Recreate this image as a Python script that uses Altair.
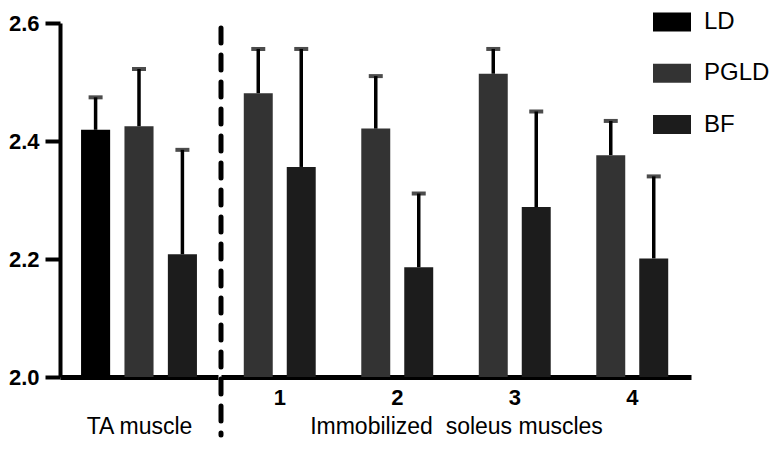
import altair as alt
import pandas as pd

# ---------------- data ----------------
series_names = ["LD", "PGLD", "BF"]
series_colors = ["#000000", "#333333", "#1c1c1c"]

ta_series = ["LD", "PGLD", "BF"]
ta_mean = [2.419, 2.425, 2.208]
ta_upper = [2.474, 2.522, 2.385]

sol_groups = ["1", "2", "3", "4"]
sol_pgld_mean = [2.481, 2.421, 2.514, 2.376]
sol_pgld_upper = [2.556, 2.510, 2.556, 2.434]
sol_bf_mean = [2.356, 2.186, 2.288, 2.201]
sol_bf_upper = [2.556, 2.311, 2.450, 2.340]

y_ticks = [2.0, 2.2, 2.4, 2.6]

ta_df = pd.DataFrame({"series": ta_series, "mean": ta_mean, "upper": ta_upper})
sol_df = pd.DataFrame({
    "group": sol_groups * 2,
    "series": ["PGLD"] * len(sol_groups) + ["BF"] * len(sol_groups),
    "mean": sol_pgld_mean + sol_bf_mean,
    "upper": sol_pgld_upper + sol_bf_upper,
})
legend_df = pd.DataFrame({"series": series_names})

# ---------------- style ----------------
FONT = "Liberation Sans"
H = 354
WL, WR = 158, 470
yscale = alt.Scale(domain=[2.0, 2.6], nice=False, zero=False)

color = alt.Color(
    "series:N",
    scale=alt.Scale(domain=series_names, range=series_colors),
    legend=None,
)

y_axis = alt.Axis(
    values=y_ticks, format=".1f", labelFont=FONT, labelFontSize=22,
    labelFontWeight="bold", labelColor="black", labelPadding=6,
    tickSize=15, tickWidth=4, tickColor="black",
    domainWidth=4, domainColor="black", grid=False, title=None,
)

# ---------------- left panel (TA) ----------------
xl = alt.X(
    "series:N", sort=ta_series,
    scale=alt.Scale(paddingInner=0.33, paddingOuter=0.485),
    axis=alt.Axis(
        labels=False, ticks=False, domainWidth=5, domainColor="black",
        title="TA muscle", titleFont=FONT, titleFontSize=23,
        titleFontWeight="normal", titleColor="black",
        titleY=56, titleBaseline="alphabetic",
    ),
)
yl = alt.Y("mean:Q", scale=yscale, axis=y_axis)

base_l = alt.Chart(ta_df)
bars_l = base_l.mark_bar().encode(x=xl, y=yl, y2=alt.datum(2.0), color=color)
err_l = base_l.mark_rule(color="black", strokeWidth=3.5).encode(x=xl, y=yl, y2="upper:Q")
cap_l = base_l.mark_tick(color="black", thickness=4, size=14).encode(
    x=xl, y=alt.Y("upper:Q", scale=yscale, axis=y_axis))
left = alt.layer(bars_l, err_l, cap_l).properties(width=WL, height=H)

# ---------------- right panel (soleus) ----------------
xr = alt.X(
    "group:N", sort=sol_groups,
    scale=alt.Scale(paddingInner=0, paddingOuter=0),
    axis=alt.Axis(
        labelFont=FONT, labelFontSize=22, labelFontWeight="bold",
        labelColor="black", labelAngle=0, labelPadding=10, ticks=False,
        domainWidth=5, domainColor="black",
        title="Immobilized\u00a0 soleus muscles", titleFont=FONT, titleFontSize=23,
        titleFontWeight="normal", titleColor="black",
        titleY=56, titleBaseline="alphabetic",
    ),
)
xo = alt.XOffset(
    "series:N", sort=["PGLD", "BF"],
    scale=alt.Scale(domain=["PGLD", "BF"], paddingInner=0.326, paddingOuter=0.53),
)
yr = alt.Y("mean:Q", scale=yscale, axis=None)

base_r = alt.Chart(sol_df)
bars_r = base_r.mark_bar().encode(x=xr, xOffset=xo, y=yr, y2=alt.datum(2.0), color=color)
err_r = base_r.mark_rule(color="black", strokeWidth=3.5).encode(x=xr, xOffset=xo, y=yr, y2="upper:Q")
cap_r = base_r.mark_tick(color="black", thickness=4, size=14).encode(
    x=xr, xOffset=xo, y=alt.Y("upper:Q", scale=yscale, axis=None))
divider = alt.Chart(pd.DataFrame({"d": [0]})).mark_rule(
    color="black", strokeWidth=5, strokeDash=[15, 12], strokeCap="round"
).encode(x=alt.value(0), y=alt.value(5), y2=alt.value(H + 58))

# legend drawn in the right panel
leg_y = alt.Y(
    "series:N", sort=series_names,
    scale=alt.Scale(type="point", domain=series_names, range=[-1, 101.5], padding=0),
    axis=None,
)
leg_sym = alt.Chart(legend_df).mark_point(
    shape="M-1,-0.5H1V0.5H-1Z", size=1444, filled=True, opacity=1, strokeWidth=0
).encode(x=alt.value(451), y=leg_y, color=color)
leg_txt = alt.Chart(legend_df).mark_text(
    align="left", baseline="middle", font=FONT, fontSize=24, color="black"
).encode(x=alt.value(483), y=leg_y, text="series:N")

right = alt.layer(bars_r, err_r, cap_r, divider, leg_sym, leg_txt).resolve_scale(
    y="independent"
).properties(width=WR, height=H)

chart = alt.hconcat(left, right, spacing=0).resolve_scale(color="shared").properties(
    padding={"left": 0, "top": 2, "right": 0, "bottom": 0}
).configure_view(stroke=None)

chart.save("out.html", embed_options={"renderer": "svg", "actions": False})
